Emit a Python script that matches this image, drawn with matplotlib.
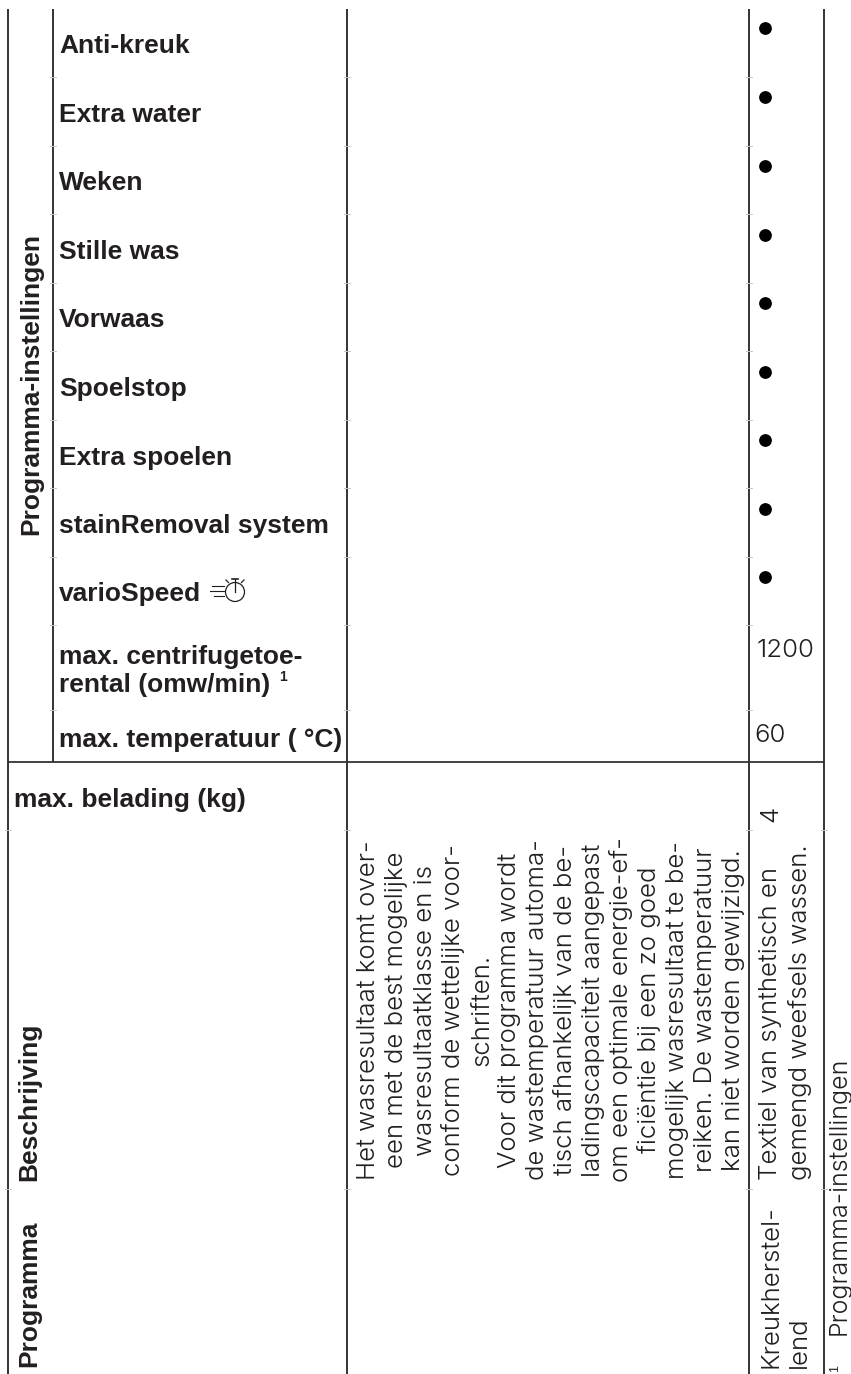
import matplotlib.pyplot as plt
from matplotlib.patches import Circle

# table content
settings = ["Anti-kreuk", "Extra water", "Weken", "Stille was", "Vorwaas",
            "Spoelstop", "Extra spoelen", "stainRemoval system", "varioSpeed"]
speed_label = ["max. centrifugetoe-", "rental (omw/min)"]
temp_label = "max. temperatuur ( °C)"
load_label = "max. belading (kg)"
max_speed = "1200"
max_temp = "60"
max_load = "4"
description = ["Het wasresultaat komt over-", "een met de best mogelijke",
               "wasresultaatklasse en is", "conform de wettelijke voor-",
               "schriften.", "Voor dit programma wordt",
               "de wastemperatuur automa-", "tisch afhankelijk van de be-",
               "ladingscapaciteit aangepast", "om een optimale energie-ef-",
               "ficiëntie bij een zo goed", "mogelijk wasresultaat te be-",
               "reiken. De wastemperatuur", "kan niet worden gewijzigd."]
program = ["Kreukherstel-", "lend"]
program_text = ["Textiel van synthetisch en", "gemengd weefsels wassen."]
footnote = "Programma-instellingen"

# layout in pixels
W, H = 851, 1374
setting_base = [53, 122, 190, 259, 327, 396, 465, 533, 601]
bullet_y = [28, 97, 166, 235, 303, 372, 440, 509, 577]
row_ticks = [77, 146, 214, 283, 351, 420, 488, 557, 625, 710, 830, 1189]
desc_x = [375, 403, 432, 460, 488, 516, 544, 572, 600, 628, 656, 684, 712, 740]

INK = "#231f20"
LINE = "#333333"
BOLD = dict(family="Liberation Sans", weight="bold", color=INK, fontsize=19.0)
BODY = dict(family="Inter", weight=300, color=INK, fontsize=18.6)

fig = plt.figure(figsize=(W / 100, H / 100), dpi=100)
ax = fig.add_axes([0, 0, 1, 1])
ax.set_xlim(0, W)
ax.set_ylim(H, 0)
ax.axis("off")


def vtext(x, y, s, ha="left", **kw):
    ax.text(x, y, s, rotation=90, rotation_mode="anchor", ha=ha, va="baseline", **kw)


# grid
for x, y1 in [(8, H), (53, 762), (347, H), (749, H), (823.5, H)]:
    ax.plot([x, x], [9, y1], color=LINE, lw=1.4, solid_capstyle="butt")
ax.plot([8, 823.5], [762, 762], color=LINE, lw=1.3, solid_capstyle="butt")
for y in row_ticks:
    xs = [53, 347, 749] if y < 762 else [8, 347, 749, 823.5]
    for x in xs:
        ax.plot([x - 3, x + 3], [y, y], color="#c8c8c8", lw=0.7)

# settings column
for name, y in zip(settings, setting_base):
    ax.text(59, y, name, va="baseline", **BOLD)
ax.text(59, 664, speed_label[0], va="baseline", **BOLD)
ax.text(59, 692, speed_label[1], va="baseline", **BOLD)
ax.text(279, 681, "1", va="baseline", family="Liberation Sans", weight="bold",
        color=INK, fontsize=10)
ax.text(59, 747, temp_label, va="baseline", **BOLD)
ax.text(14, 807, load_label, va="baseline", **BOLD)

# varioSpeed stopwatch icon
ax.add_patch(Circle((235, 592), 9.5, fill=False, ec=INK, lw=0.9))
ax.plot([235, 235], [579, 592], color=INK, lw=0.9)
ax.plot([232, 238], [579, 579], color=INK, lw=1.2)
ax.plot([226, 228.5], [580, 582.5], color=INK, lw=0.9)
ax.plot([244, 241.5], [580, 582.5], color=INK, lw=0.9)
for y, x0 in [(586, 212), (591, 210), (596, 214)]:
    ax.plot([x0, 224], [y, y], color=INK, lw=0.8)

# bullets and values
ax.plot([765] * len(bullet_y), bullet_y, "o", color="black", ms=9.2, mew=0)
ax.text(757, 657, max_speed, va="baseline", **BODY)
ax.text(754, 742, max_temp, va="baseline", **BODY)
vtext(777, 822, max_load, **BODY)

# rotated headers
vtext(38, 535, "Programma-instellingen", **BOLD)
vtext(36, 1367, "Programma", **BOLD)
vtext(36, 1181, "Beschrijving", **BOLD)

# rotated body
for x, line in zip(desc_x, description):
    vtext(x, 1010, line, ha="center", **BODY)
vtext(777, 1180, program_text[0], **BODY)
vtext(807, 1180, program_text[1], **BODY)
vtext(777, 1368, program[0], **BODY)
vtext(806, 1368, program[1], **BODY)

# footnote at the page edge
vtext(838, 1372, "1", family="Liberation Sans", color=INK, fontsize=9)
vtext(846, 1335, footnote, family="Inter", weight=300, color=INK, fontsize=18)

fig.savefig("out.png", dpi=100)
